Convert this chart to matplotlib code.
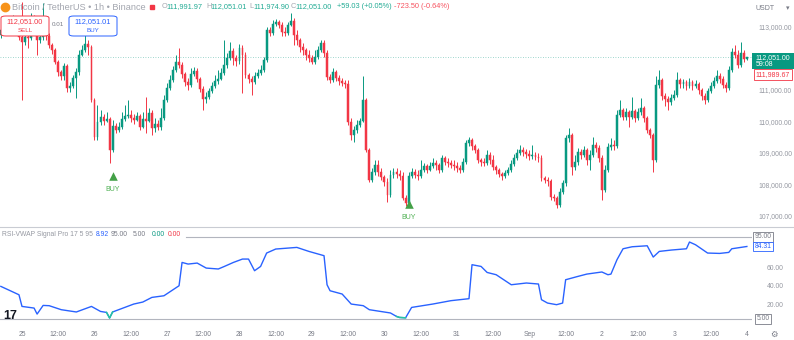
import matplotlib
matplotlib.use("Agg")
import matplotlib.pyplot as plt
from matplotlib.patches import Rectangle, FancyBboxPatch
from matplotlib.lines import Line2D
from matplotlib.transforms import blended_transform_factory as btf
import numpy as np

# ---------------- data (BTC/USDT 1h, Aug 24 17:00 -> Sep 4 00:00) ----------------
first_open = 112760
close = [
    112920, 112980, 113110, 113170, 113240, 113110, 112700, 112540, 112700, 112670,
    113300, 112920, 112600, 112700, 112820, 112730, 112440, 112290, 111900, 111590,
    111460, 111780, 111080, 111140, 111400, 111590, 112130, 112290, 112480, 112380,
    110700, 109530, 110000, 110160, 110030, 110100, 109120, 109880, 109750, 109840,
    110100, 110190, 110220, 110130, 110070, 110190, 109840, 110100, 110030, 110290,
    109810, 109940, 109840, 110130, 110700, 111080, 111330, 111650, 111900, 111810,
    111520, 111270, 111180, 111520, 111620, 111370, 111050, 110730, 110800, 110990,
    111140, 111300, 111370, 111560, 111810, 112030, 112250, 112030, 111940, 112350,
    112130, 111490, 111370, 111270, 111460, 111560, 111650, 111970, 112920, 112820,
    113110, 113170, 113080, 112860, 112820, 113080, 113200, 112760, 112600, 112380,
    112290, 112130, 112030, 111900, 112060, 112290, 112510, 112190, 111430, 111330,
    111590, 111400, 111300, 111240, 111210, 110000, 109590, 109750, 109910, 110030,
    110700, 109120, 108160, 108420, 108640, 108420, 108260, 108100, 107690, 108320,
    108420, 108350, 108290, 107590, 107440, 108290, 108420, 108320, 108290, 108480,
    108610, 108480, 108610, 108700, 108640, 108480, 108860, 108730, 108700, 108640,
    108610, 108540, 108480, 108730, 109340, 109430, 109240, 109120, 108800, 108730,
    108700, 108960, 108800, 108580, 108480, 108350, 108290, 108390, 108480, 108670,
    108860, 109020, 109120, 109050, 108990, 108930, 108960, 108890, 108860, 108230,
    108160, 108130, 107630, 107590, 107370, 107780, 108070, 109500, 109590, 108580,
    108730, 109050, 108960, 109120, 108800, 108960, 109270, 109180, 108860, 107850,
    108480, 109210, 109270, 109240, 110220, 110380, 110160, 110320, 110160, 110350,
    110130, 110320, 110450, 110130, 109750, 109590, 108800, 111180, 111330, 110830,
    110730, 110640, 110760, 110860, 111330, 111210, 111270, 111140, 111270, 111140,
    111210, 111020, 110830, 110700, 110990, 111140, 111300, 111460, 111370, 111180,
    111080, 111650, 112220, 112130, 111810, 112190, 111991.97, 112051.00,
]
high = [
    113050, 113110, 113240, 113300, 113390, 113300, 113170, 113810, 112820, 112920,
    113460, 113390, 112980, 112860, 113780, 112920, 112820, 112510, 112350, 111970,
    111650, 111870, 111840, 111270, 111490, 111710, 112290, 112440, 112820, 112600,
    112440, 110760, 110540, 110380, 110260, 110320, 110160, 110070, 109970, 110000,
    110320, 110540, 110700, 110380, 110260, 110320, 110260, 110320, 110800, 110450,
    110380, 110130, 110070, 110450, 110860, 111240, 111490, 111780, 112130, 112350,
    111900, 111590, 111400, 111710, 111750, 111710, 111430, 111140, 110950, 111080,
    111270, 111490, 111650, 111710, 112600, 112190, 112540, 112350, 112130, 112480,
    112440, 112220, 111560, 111460, 111590, 111680, 111810, 112060, 113010, 113010,
    113240, 113270, 113240, 113170, 113010, 113170, 113460, 113300, 112920, 112670,
    112510, 112350, 112290, 112130, 112290, 112410, 112600, 112600, 112290, 111520,
    111710, 111650, 111490, 111400, 111330, 111330, 110130, 109880, 110070, 110130,
    111460, 110760, 109180, 108540, 108800, 108800, 108540, 108320, 108230, 108480,
    108540, 108540, 108480, 108420, 107690, 108420, 108540, 108510, 108480, 108800,
    108700, 108670, 108730, 108860, 108800, 108700, 108960, 108930, 108860, 108800,
    108800, 108730, 108640, 108860, 109430, 109530, 109500, 109300, 109180, 108860,
    108860, 109120, 109050, 108960, 108640, 108540, 108420, 108480, 108580, 108800,
    108990, 109150, 109270, 109210, 109150, 109120, 109270, 109050, 109020, 108960,
    108290, 108260, 108200, 107720, 107660, 107910, 108160, 109590, 109810, 109650,
    108960, 109180, 109150, 109240, 109180, 109120, 109530, 109370, 109270, 108960,
    108640, 109340, 109500, 109430, 110380, 110700, 110450, 110450, 110380, 110800,
    110410, 110450, 110760, 110510, 110190, 109810, 109650, 111460, 111650, 111400,
    110920, 110830, 110890, 111020, 111590, 111400, 111370, 111330, 111400, 111330,
    111330, 111270, 111080, 110920, 111080, 111270, 111430, 111650, 111560, 111460,
    111270, 111780, 112350, 112440, 112290, 112540, 112290, 112051.01,
]
low = [
    112670, 112820, 112920, 113010, 113080, 112980, 112600, 110700, 112440, 112350,
    112600, 112760, 112130, 112510, 112600, 112600, 112350, 112160, 111840, 111460,
    111330, 111330, 110950, 110950, 111080, 110760, 111490, 112100, 112220, 112130,
    110640, 109430, 109430, 109910, 109910, 110000, 108700, 109050, 109650, 109690,
    109780, 110030, 110130, 110000, 109940, 110030, 109750, 109810, 109650, 109990,
    109590, 109690, 109750, 109750, 110070, 110640, 111020, 111270, 111590, 111710,
    111400, 111140, 111020, 111110, 111460, 111270, 110950, 110380, 110600, 110730,
    110920, 111080, 111210, 111330, 111490, 111710, 111970, 111810, 111780, 111840,
    110920, 111400, 111240, 110860, 111210, 111400, 111490, 111590, 111900, 112730,
    112760, 113050, 112980, 112730, 112730, 112760, 113050, 112440, 112440, 112220,
    112130, 111970, 111900, 111840, 111840, 112000, 112220, 112060, 111330, 111240,
    111270, 111300, 111180, 111140, 111080, 109910, 109430, 109370, 109650, 109840,
    110000, 109050, 108100, 108100, 108320, 108290, 108160, 107970, 107470, 107630,
    108230, 108230, 108160, 107530, 107340, 107370, 108230, 108230, 108160, 108230,
    108420, 108390, 108450, 108540, 108480, 108390, 108420, 108640, 108580, 108540,
    108480, 108420, 108390, 108420, 108670, 109240, 109120, 109020, 108700, 108610,
    108610, 108640, 108670, 108480, 108350, 108260, 108160, 108230, 108320, 108420,
    108610, 108800, 108960, 108930, 108860, 108800, 108830, 108800, 108730, 108130,
    108070, 107970, 107530, 107500, 107280, 107310, 107720, 107970, 109370, 108320,
    108480, 108640, 108830, 108890, 108640, 108480, 108890, 109050, 108730, 107530,
    107780, 108420, 109120, 109120, 109180, 110160, 110070, 110070, 109840, 110100,
    110000, 110070, 110220, 110000, 109650, 109500, 108420, 108730, 111080, 110700,
    110510, 110380, 110540, 110700, 110800, 111080, 111080, 111020, 111080, 111020,
    111080, 110890, 110700, 110570, 110640, 110920, 111080, 111240, 111240, 111080,
    110950, 111020, 111590, 112030, 111710, 111750, 111900, 111974.90,
]

buy_idx = [37, 135]
buy_marker_price = [108290, 107400]

rsi_idx = [0, 6, 7, 11, 12, 14, 16, 20, 25, 30,
           33, 35, 36, 37, 44, 47, 50, 54, 59, 60,
           62, 65, 68, 72, 74, 77, 80, 82, 84, 86,
           88, 91, 98, 102, 107, 108, 109, 113, 116, 120,
           122, 129, 131, 132, 134, 136, 143, 149, 155, 156,
           159, 161, 164, 169, 174, 178, 179, 181, 184, 186,
           187, 191, 194, 199, 201, 202, 204, 206, 209, 214,
           216, 218, 222, 227, 228, 230, 234, 238, 241, 242,
           247]
rsi_val = [40.5, 31.3, 18.5, 16.7, 10.1, 19.6, 19.3, 14.9, 12.4, 18.5,
           13.0, 11.9, 5.8, 12.4, 21.1, 23.3, 28.4, 30.2, 41.2, 66.8,
           65.0, 66.1, 60.6, 59.6, 62.4, 66.8, 70.5, 70.5, 57.7, 62.4,
           77.1, 81.5, 83.3, 78.9, 74.2, 42.3, 35.7, 32.1, 21.1, 19.3,
           14.9, 11.3, 7.5, 6.4, 6.0, 17.4, 21.1, 24.8, 27.0, 64.3,
           62.4, 55.8, 53.3, 42.3, 44.2, 43.1, 25.9, 22.2, 20.4, 22.2,
           47.8, 51.4, 54.0, 56.3, 53.3, 54.0, 69.8, 81.8, 84.0, 85.1,
           72.7, 78.9, 80.4, 81.8, 89.2, 86.2, 77.1, 76.7, 77.8, 81.8,
           84.31]
rsi_signal_ranges = [(35, 37), (131, 134)]

time_tick_idx = [7, 19, 31, 43, 55, 67, 79, 91, 103, 115, 127, 139, 151, 163,
                 175, 187, 199, 211, 223, 235, 247]
time_tick_lbl = ["25", "12:00", "26", "12:00", "27", "12:00", "28", "12:00", "29", "12:00",
                 "30", "12:00", "31", "12:00", "Sep", "12:00", "2", "12:00", "3", "12:00", "4"]
price_ticks = [113000, 111000, 110000, 109000, 108000, 107000]
rsi_ticks = [60, 40, 20]

# ---------------- style ----------------
GREEN = '#089981'
RED = '#f23645'
BLUE = '#2962ff'
GRAY = '#9598a1'
FONT = 'Liberation Sans'
plt.rcParams['font.family'] = [FONT, 'DejaVu Sans']

W, H = 794, 340
fig = plt.figure(figsize=(W / 100, H / 100), dpi=100)
fig.patch.set_facecolor('white')


def X(px):
    return px / W


def Y(py):
    return 1 - py / H


ax = fig.add_axes([0, Y(227), 752 / W, 227 / H])
axr = fig.add_axes([0, Y(324), 752 / W, 97 / H])
for a in (ax, axr):
    a.set_axis_off()
    a.set_xlim(-0.28, 248.7)
ax.set_ylim(106674, 113870)
axr.set_ylim(-0.8, 105.7)

# ---------------- candles ----------------
n = len(close)
idx = np.arange(n)
cl = np.array(close, dtype=float)
op = np.concatenate([[first_open], cl[:-1]])
cols = np.where(cl >= op, GREEN, RED)
ax.vlines(idx, low, high, colors=cols, linewidth=0.7, zorder=2)
ax.bar(idx, cl - op, bottom=op, width=0.62, color=cols, edgecolor=cols,
       linewidth=0.35, zorder=3)

# last price dotted line
ax.axhline(close[-1], color='#7fc9bd', lw=0.6, ls=(0, (1, 2)), zorder=1)

# BUY signals
ax.scatter(buy_idx, buy_marker_price, marker='^', s=38, color='#43a047', zorder=4, linewidths=0)
for i, p in zip(buy_idx, buy_marker_price):
    ax.annotate('BUY', (i, p), xytext=(0, -13), textcoords='offset pixels',
                ha='center', va='center', fontsize=5, color='#4caf50')

# price scale labels
tp = btf(ax.transAxes, ax.transData)
for p in price_ticks:
    ax.text(775 / 752, p, f"{p:,.2f}", transform=tp, ha='center', va='center',
            fontsize=4.9, color=GRAY, clip_on=False)

# current price box
tf = btf(fig.transFigure, ax.transData)
ax.add_patch(Rectangle((X(752), close[-1] - 365), X(42), 508, transform=tf,
                       facecolor=GREEN, edgecolor='none', clip_on=False, zorder=5))
ax.text(773 / 752, close[-1], f"{close[-1]:,.2f}", transform=tp, ha='center', va='center',
        fontsize=5, color='white', clip_on=False, zorder=6)
ax.annotate('59:08', (756 / 752, close[-1]), xycoords=tp, xytext=(0, -7),
            textcoords='offset pixels', ha='left', va='center', fontsize=5,
            color='white', zorder=6, annotation_clip=False)
ax.annotate('111,989.67', (773 / 752, close[-1]), xycoords=tp, xytext=(0, -17),
            textcoords='offset pixels', ha='center', va='center', fontsize=5,
            color=RED, zorder=6, annotation_clip=False,
            bbox=dict(boxstyle='square,pad=0.25', fc='white', ec=RED, lw=0.6))

# ---------------- RSI pane ----------------
axr.axhline(95, xmin=186 / 752, color='#b2b5be', lw=0.8)
axr.axhline(5, color='#b2b5be', lw=0.8)
axr.plot(rsi_idx, rsi_val, color=BLUE, lw=1.0, zorder=3)
for a0, a1 in rsi_signal_ranges:
    sx = [i for i in rsi_idx if a0 <= i <= a1]
    sv = [v for i, v in zip(rsi_idx, rsi_val) if a0 <= i <= a1]
    axr.plot(sx, sv, color='#26c6a0', lw=1.1, zorder=4)

trr = btf(axr.transAxes, axr.transData)
for v in rsi_ticks:
    axr.text(775 / 752, v, f"{v:.2f}", transform=trr, ha='center', va='center',
             fontsize=4.9, color=GRAY, clip_on=False)
for v, c in ((95, '#787b86'), (rsi_val[-1], BLUE), (5, '#787b86')):
    axr.text(763 / 752, v, f"{v:.2f}", transform=trr, ha='center', va='center',
             fontsize=4.9, color=c, clip_on=False, zorder=6,
             bbox=dict(boxstyle='square,pad=0.2', fc='white', ec=c, lw=0.6))

# time axis labels
tt = btf(axr.transData, fig.transFigure)
for i, lbl in zip(time_tick_idx, time_tick_lbl):
    axr.text(i, Y(334), lbl, transform=tt, ha='center', va='center', fontsize=4.9,
             color='#787b86', clip_on=False)

# pane separator
fig.add_artist(Line2D([0, 1], [Y(227), Y(227)], color='#c9ccd3', lw=0.8, transform=fig.transFigure))

# ---------------- header / overlays ----------------
fig.add_artist(Line2D([X(5)], [Y(7)], marker='o', ms=6, color='#f7931a', mec='#f7931a',
                      transform=fig.transFigure))
fig.text(X(12), Y(7), "Bitcoin / TetherUS • 1h • Binance", fontsize=6.6, color='#a3a6af',
         va='center', ha='left')
fig.add_artist(Line2D([X(152)], [Y(7)], marker='s', ms=3.5, color=RED, mec=RED,
                      transform=fig.transFigure))
ohlc = [(162, 'O', '111,991.97'), (206, 'H', '112,051.01'), (249, 'L', '111,974.90'),
        (291, 'C', '112,051.00')]
for x, k, v in ohlc:
    fig.text(X(x), Y(7), k, fontsize=5.3, color='#a3a6af', va='center', ha='left')
    fig.text(X(x + 4.5), Y(7), v, fontsize=5.3, color='#22ab94', va='center', ha='left')
fig.text(X(337), Y(7), "+59.03 (+0.05%)", fontsize=5.3, color='#22ab94', va='center', ha='left')
fig.text(X(394), Y(7), "-723.50 (-0.64%)", fontsize=5.3, color='#f7525f', va='center', ha='left')
fig.text(X(755), Y(8), "USDT", fontsize=5, color='#787b86', va='center', ha='left')
fig.text(X(788), Y(8), "▾", fontsize=5, color='#787b86', va='center', ha='center',
         family='DejaVu Sans')

# SELL / BUY boxes
for x0, col, val, lab in ((1, RED, '112,051.00', 'SELL'), (69, BLUE, '112,051.01', 'BUY')):
    fig.add_artist(FancyBboxPatch((X(x0), Y(36)), X(48), 20 / H,
                                  boxstyle='round,pad=0,rounding_size=0.006',
                                  transform=fig.transFigure, fc='white', ec=col, lw=0.7,
                                  zorder=8))
    fig.text(X(x0 + 24), Y(22), val, fontsize=5.3, color=col, ha='center', va='center', zorder=9)
    fig.text(X(x0 + 24), Y(31), lab, fontsize=4.5, color=col, ha='center', va='center', zorder=9)
fig.text(X(58), Y(25), "0.01", fontsize=4.5, color='#787b86', ha='center', va='center')

# RSI legend
fig.text(X(2), Y(235), "RSI-VWAP Signal Pro 17 5 95", fontsize=4.9, color=GRAY, va='center')
for x, s, c in ((96, '8.92', BLUE), (111, '95.00', '#787b86'), (133, '5.00', '#787b86'),
                (152, '0.00', GREEN), (168, '0.00', RED)):
    fig.text(X(x), Y(235), s, fontsize=4.9, color=c, va='center')

# logo & gear
fig.text(X(3), Y(316), "17", fontsize=9, fontweight='bold', color='#131722', va='center')
fig.text(X(774), Y(334), "⚙", fontsize=6, color='#787b86', va='center', ha='center',
         family='DejaVu Sans')

fig.savefig('out.png', dpi=100)
